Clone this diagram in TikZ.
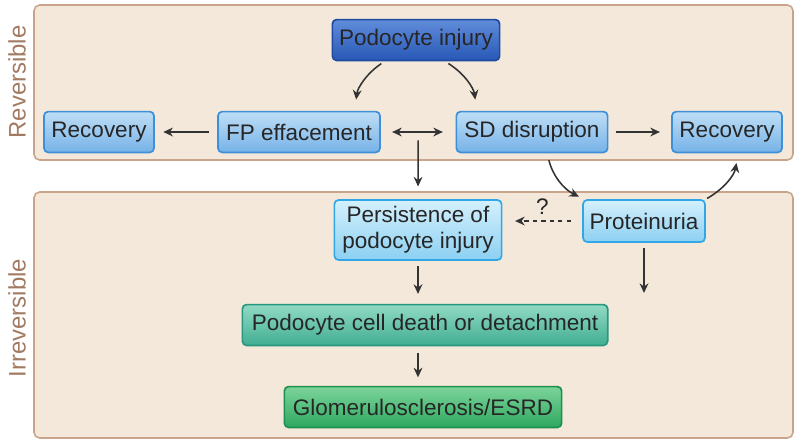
\documentclass[tikz,border=0pt]{standalone}
\usepackage{fontspec}
\setmainfont{Liberation Sans}
\usetikzlibrary{arrows.meta,calc,positioning}
\definecolor{panelfill}{HTML}{F3E8D9}
\definecolor{paneldraw}{HTML}{C9A48A}
\definecolor{sidetext}{HTML}{A27A62}
\tikzset{
mybox/.style={
  rectangle,
  rounded corners=3pt,
  line width=1.2pt,
  inner sep=0pt,
  minimum height=1.02cm,
  align=center,
  text=black!85,
  font=\fontsize{16}{18.5}\selectfont,
  }
}
\tikzset{
darkbox/.style={mybox, draw={rgb,255:red,30;green,74;blue,160}, top color={rgb,255:red,96;green,140;blue,218}, bottom color={rgb,255:red,40;green,88;blue,182}},
bluebox/.style={mybox, draw={rgb,255:red,62;green,142;blue,216}, top color={rgb,255:red,190;green,222;blue,246}, bottom color={rgb,255:red,118;green,178;blue,232}},
lightbox/.style={mybox, draw={rgb,255:red,48;green,168;blue,232}, top color={rgb,255:red,212;green,240;blue,252}, bottom color={rgb,255:red,140;green,208;blue,242}},
tealbox/.style={mybox, draw={rgb,255:red,40;green,152;blue,126}, top color={rgb,255:red,146;green,218;blue,196}, bottom color={rgb,255:red,64;green,174;blue,146}},
greenbox/.style={mybox, draw={rgb,255:red,30;green,144;blue,80}, top color={rgb,255:red,124;green,212;blue,154}, bottom color={rgb,255:red,46;green,168;blue,96}},
}
\tikzset{
myline/.style={
  line width=1.1pt,
  black!80,
  -{Stealth[length=2.4mm,width=2.2mm]}
  }
}

\begin{document}
\begin{tikzpicture}[x=0.025cm,y=-0.025cm]
    \useasboundingbox (0,0) rectangle (800,443);
    \path [draw=paneldraw, fill=panelfill, line width=1.1pt, rounded corners=4pt] (34,5) rectangle (793,160);
    \path [draw=paneldraw, fill=panelfill, line width=1.1pt, rounded corners=4pt] (34,192) rectangle (793,438);
    \node[rotate=90, text=sidetext, font=\fontsize{17}{20}\selectfont] (rev) at (17,82) {Reversible};
    \node[rotate=90, text=sidetext, font=\fontsize{17}{20}\selectfont] (irrev) at (17,318) {Irreversible};

    % reversible part
    \node[darkbox, minimum width=4.18cm] (inj) at (416,40) {Podocyte injury};
    \node[bluebox, minimum width=4.05cm] (fp) at (299,132) {FP effacement};
    \node[bluebox, minimum width=3.78cm] (sd) at (532,132) {SD disruption};
    \node[bluebox, minimum width=2.75cm] (recl) at (99,132) {Recovery};
    \node[bluebox, minimum width=2.75cm] (recr) at (727,132) {Recovery};
    \coordinate (mid) at ($(fp.east)!0.5!(sd.west)$);

    % irreversible part
    \node[lightbox, minimum width=4.18cm, minimum height=1.5cm] (pers) at (418,230) {Persistence of\\podocyte injury};
    \node[lightbox, minimum width=3.05cm, minimum height=1.05cm] (prot) at (644,221) {Proteinuria};
    \node[tealbox, minimum width=9.13cm] (death) at (425,325) {Podocyte cell death or detachment};
    \node[greenbox, minimum width=6.93cm] (glom) at (423,407) {Glomerulosclerosis/ESRD};
    \coordinate (protend) at (644,293);

    % reversible edges
    \draw[myline, shorten <=3pt, shorten >=8pt] ([xshift=-0.78cm]inj.south) to[bend right=25] ([xshift=1.4cm]fp.north);
    \draw[myline, shorten <=3pt, shorten >=8pt] ([xshift=0.72cm]inj.south) to[bend left=25] ([xshift=-1.38cm]sd.north);
    \draw[myline, {Stealth[length=2.4mm,width=2.2mm]}-{Stealth[length=2.4mm,width=2.2mm]}, shorten <=8pt, shorten >=9pt] (fp.east) -- (sd.west);
    \draw[myline, shorten <=6pt, shorten >=6pt] (fp.west) -- (recl.east);
    \draw[myline, shorten <=5pt, shorten >=8pt] (sd.east) -- (recr.west);

    % crossing edges
    \draw[myline, shorten <=6pt, shorten >=9pt] (mid) -- (pers.north);
    \draw[myline, shorten <=5pt, shorten >=4pt] ([xshift=0.38cm]sd.south) to[bend right=25] ([xshift=-1.5cm]prot.north);
    \draw[myline, shorten <=1pt, shorten >=7pt] (prot.north east) to[bend right=25] ([xshift=0.28cm]recr.south);

    % irreversible edges
    \draw[myline, dashed, shorten <=8pt, shorten >=9pt] (prot.west) -- (prot.west -| pers.east) node[midway, above=1pt, font=\fontsize{16}{18.5}\selectfont, text=black!85] (q) {?};
    \draw[myline, shorten <=4pt, shorten >=7pt] (pers.south) -- (pers.south |- death.north);
    \draw[myline, shorten <=4pt] (prot.south) -- (protend);
    \draw[myline, shorten <=5pt, shorten >=6pt] (pers.south |- death.south) -- (pers.south |- glom.north);
\end{tikzpicture}
\end{document}
